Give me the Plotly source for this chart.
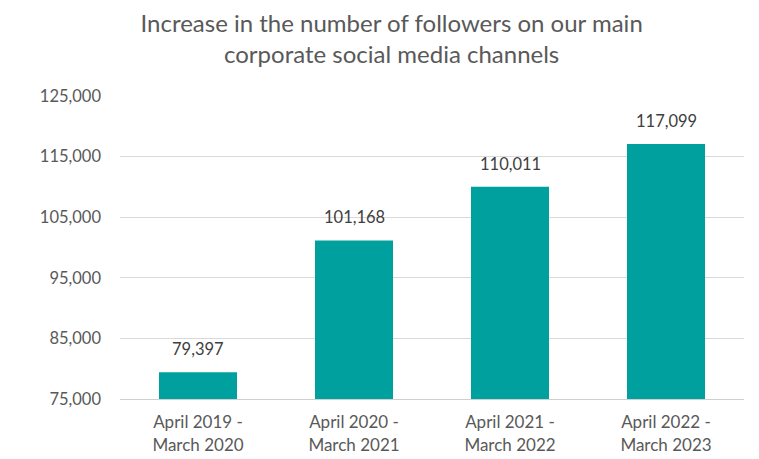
import plotly.graph_objects as go

# Follower totals per reporting year
periods = ["April 2019 -<br>March 2020", "April 2020 -<br>March 2021",
           "April 2021 -<br>March 2022", "April 2022 -<br>March 2023"]
followers = [79397, 101168, 110011, 117099]
y_ticks = [75000, 85000, 95000, 105000, 115000, 125000]

FONT = "Lato, 'Open Sans', sans-serif"
GREY = "#595959"

fig = go.Figure(go.Bar(
    x=periods,
    y=followers,
    marker=dict(color="#00A09E", line=dict(width=0)),
    cliponaxis=False,
))

# value labels above each bar
for p, v in zip(periods, followers):
    fig.add_annotation(
        x=p, y=v, text=f"{v:,}", showarrow=False,
        xanchor="center", yanchor="bottom", yshift=11,
        font=dict(family=FONT, size=16.5, color="#404040"),
    )

fig.update_layout(
    width=759, height=459,
    margin=dict(l=120, r=15, t=96, b=60),
    paper_bgcolor="white", plot_bgcolor="white",
    bargap=0.5,
    showlegend=False,
    title=dict(
        text="Increase in the number of followers on our main<br>corporate social media channels",
        x=0.516, xref="container", xanchor="center",
        y=1 - 32 / 459, yref="container", yanchor="middle",
        font=dict(family=FONT, size=24, color=GREY),
    ),
    font=dict(family=FONT, color=GREY),
)

fig.update_yaxes(
    range=[75000, 125000],
    tickvals=y_ticks,
    ticktext=[f"{v:,}" for v in y_ticks],
    tickfont=dict(family=FONT, size=16.5, color=GREY),
    showgrid=True, gridcolor="#D9D9D9", gridwidth=1,
    zeroline=False, showline=False,
    ticks="", ticklabelstandoff=18, automargin=False,
)
fig.update_xaxes(
    tickfont=dict(family=FONT, size=17, color=GREY),
    showline=True, linecolor="#D0D0D0", linewidth=1,
    ticks="", ticklabelstandoff=8, automargin=False,
)

fig.write_html("out.html")
